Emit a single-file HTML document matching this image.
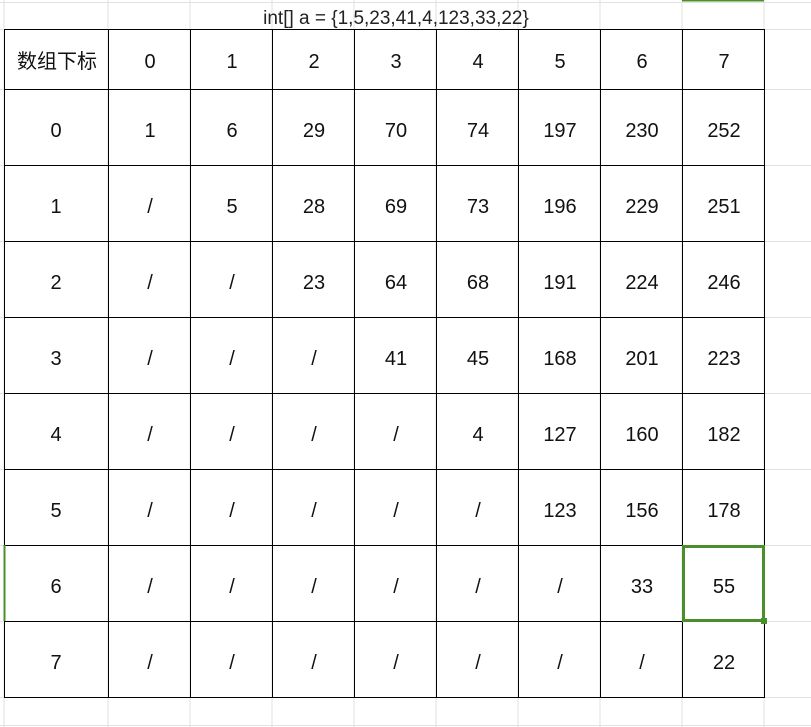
<!DOCTYPE html>
<html><head><meta charset="utf-8"><style>
body{margin:0;width:811px;height:727px;overflow:hidden;background:#fff;font-family:"Liberation Sans","Noto Sans CJK SC",sans-serif;}
#s{position:absolute;left:0;top:0}
</style></head><body>
<svg id="s" width="811" height="727">
<g id="grid"></g><g id="cells"></g><g id="sel"></g>
<text x="396" y="24" font-size="19" text-anchor="middle" fill="#222">int[] a = {1,5,23,41,4,123,33,22}</text>
</svg>
<script>
const colHeaders=["数组下标","0","1","2","3","4","5","6","7"];
const rowLabels=["0","1","2","3","4","5","6","7"];
const values=[
[1,6,29,70,74,197,230,252],
["/",5,28,69,73,196,229,251],
["/","/",23,64,68,191,224,246],
["/","/","/",41,45,168,201,223],
["/","/","/","/",4,127,160,182],
["/","/","/","/","/",123,156,178],
["/","/","/","/","/","/",33,55],
["/","/","/","/","/","/","/",22]];
const NS="http://www.w3.org/2000/svg";
const xs=[4,108,190,272,354,436,518,600,682,764];
const ys=[29,89,165,241,317,393,469,545,621,697];
const g=document.getElementById('grid'),c=document.getElementById('cells'),sel=document.getElementById('sel');
function ln(p,x1,y1,x2,y2,col,w){const l=document.createElementNS(NS,'line');l.setAttribute('x1',x1);l.setAttribute('y1',y1);l.setAttribute('x2',x2);l.setAttribute('y2',y2);l.setAttribute('stroke',col);l.setAttribute('stroke-width',w);p.appendChild(l);return l;}
[4,108,190,272,354,436,518,600,682,764].forEach(x=>ln(g,x,0,x,727,'#e2e2e2',1));
[2,29,89,165,241,317,393,469,545,621,697,725].forEach(y=>ln(g,0,y+.5,811,y+.5,'#e2e2e2',1));
xs.forEach(x=>ln(g,x+.5,29,x+.5,697,'#000',1));
ys.forEach(y=>ln(g,4,y+.5,765,y+.5,'#000',1));
function tx(x,y,s,name){const t=document.createElementNS(NS,'text');t.setAttribute('x',x);t.setAttribute('y',y);t.setAttribute('font-size','20');t.setAttribute('text-anchor','middle');t.setAttribute('fill','#111');t.textContent=s;


c.appendChild(t);}
colHeaders.forEach((h,i)=>tx((xs[i]+xs[i+1])/2+1,ys[0]+39,h,'col-header'));
rowLabels.forEach((r,j)=>{const cy=(ys[j+1]+ys[j+2])/2+10;tx((xs[0]+xs[1])/2,cy,r,'row-label');
values[j].forEach((v,i)=>tx((xs[i+1]+xs[i+2])/2+1,cy,String(v),'cell-value'));});
const r=document.createElementNS(NS,'rect');r.setAttribute('x',683.5);r.setAttribute('y',546.5);r.setAttribute('width',80);r.setAttribute('height',74);r.setAttribute('fill','none');r.setAttribute('stroke','#4a8f2a');r.setAttribute('stroke-width','3');


sel.appendChild(r);
const h=document.createElementNS(NS,'rect');h.setAttribute('x',761);h.setAttribute('y',618);h.setAttribute('width',6);h.setAttribute('height',6);h.setAttribute('fill','#4a8f2a');


sel.appendChild(h);
ln(sel,682,0.5,764,0.5,'#4a8f2a',2);
ln(sel,4.5,545,4.5,621,'#4a8f2a',2);
</script>
</body></html>
